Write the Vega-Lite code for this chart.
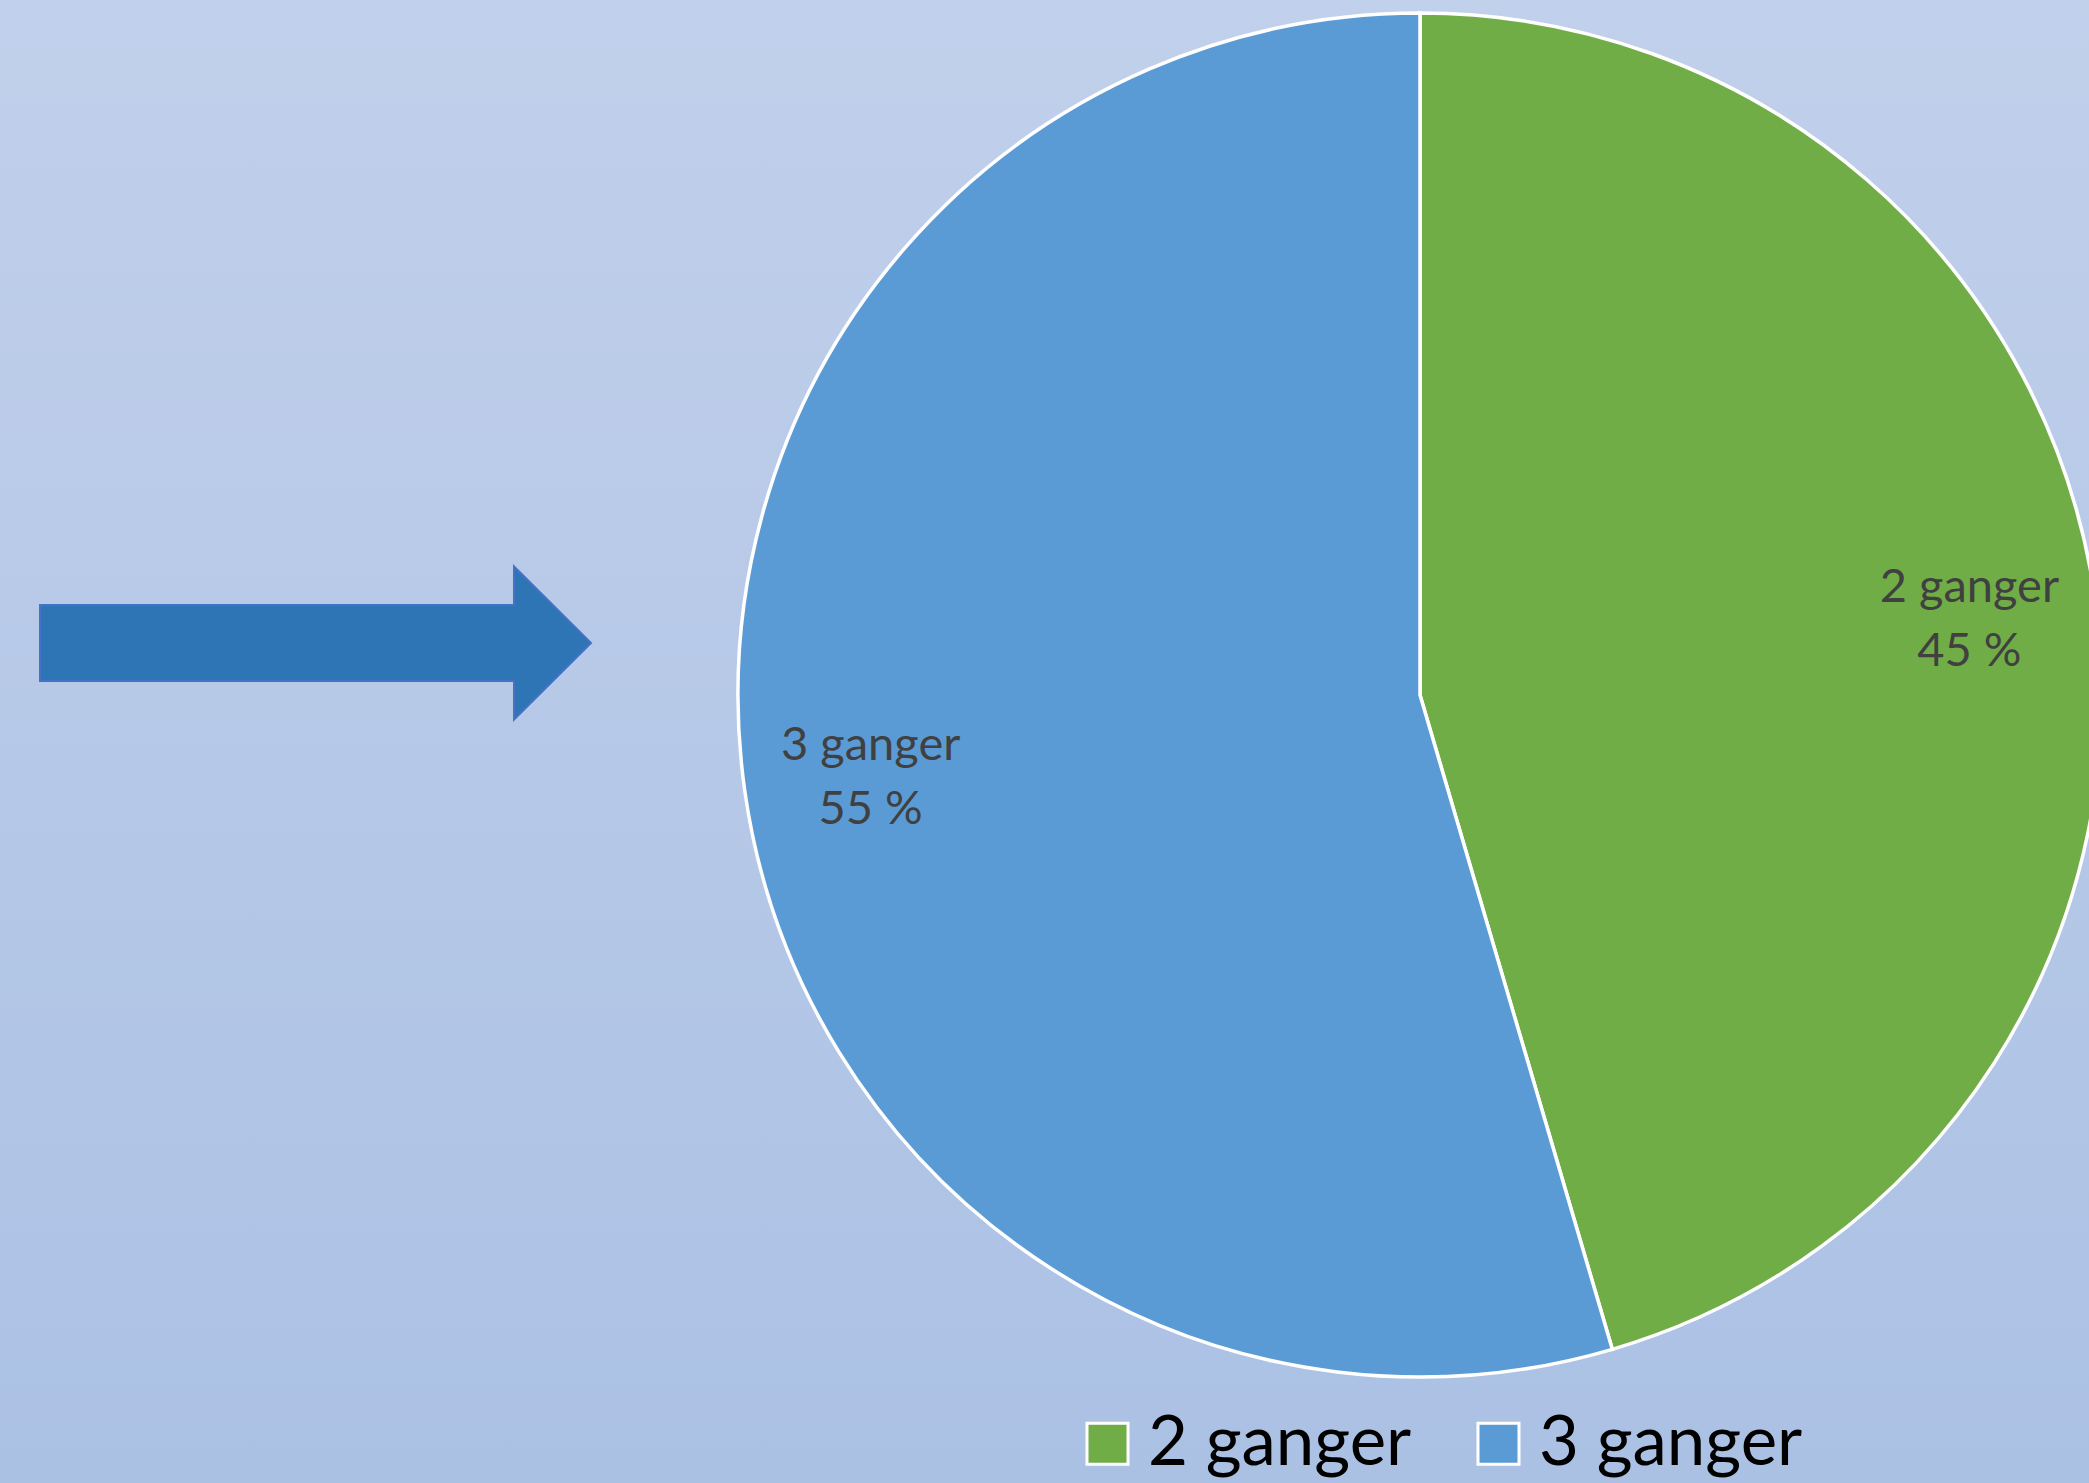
{
  "$schema": "https://vega.github.io/schema/vega-lite/v6.json",
  "width": 2089,
  "height": 1483,
  "padding": 0,
  "autosize": {"type": "none"},
  "background": "#B8C9E8",
  "view": {
    "stroke": null,
    "fill": {"gradient": "linear", "x1": 0, "y1": 0, "x2": 0, "y2": 1,
      "stops": [{"offset": 0, "color": "#C1D0EB"}, {"offset": 1, "color": "#ABC1E4"}]}
  },
  "layer": [
    {
      "data": {"values": [{"shape": "arrow"}]},
      "mark": {"type": "point",
        "shape": "M -1 -0.138 L 0.7205 -0.138 L 0.7205 -0.2777 L 1 0 L 0.7205 0.2777 L 0.7205 0.138 L -1 0.138 Z",
        "size": 303601, "filled": true, "fill": "#2E75B6", "stroke": "#4472C4", "strokeWidth": 2, "opacity": 1},
      "encoding": {
        "x": {"datum": 315.5, "type": "quantitative", "scale": {"domain": [0, 2089], "nice": false, "zero": false}, "axis": null},
        "y": {"datum": 643, "type": "quantitative", "scale": {"domain": [0, 1483], "nice": false, "zero": false, "reverse": true}, "axis": null}
      }
    },
    {
      "data": {"values": [
        {"category": "2 ganger", "value": 45.45, "label": "2 ganger\n45 %"},
        {"category": "3 ganger", "value": 54.55, "label": "3 ganger\n55 %"}
      ]},
      "encoding": {
        "theta": {"field": "value", "type": "quantitative", "stack": true},
        "x": {"datum": 1420, "type": "quantitative"},
        "y": {"datum": 695, "type": "quantitative"}
      },
      "layer": [
        {
          "mark": {"type": "arc", "radius": 682, "stroke": "white", "strokeWidth": 3.5},
          "encoding": {
            "color": {"field": "category", "type": "nominal",
              "scale": {"domain": ["2 ganger", "3 ganger"], "range": ["#70AD47", "#5B9BD5"]},
              "legend": {"orient": "none", "legendX": 1073, "legendY": 1409, "direction": "horizontal", "title": null,
                "symbolType": "square", "symbolSize": 1681, "symbolStrokeColor": "white", "symbolStrokeWidth": 3,
                "symbolOpacity": 1, "labelFontSize": 69, "labelFont": "Lato", "labelColor": "black", "labelLimit": 0,
                "labelOffset": 6, "columnPadding": 52, "padding": 0}}
          }
        },
        {
          "mark": {"type": "text", "radius": 555, "fontSize": 47, "font": "Lato", "fill": "#404040",
            "lineBreak": "\n", "lineHeight": 64, "align": "center", "baseline": "middle", "dy": -28},
          "encoding": {
            "text": {"field": "label"},
            "detail": {"field": "category"}
          }
        }
      ]
    }
  ]
}
